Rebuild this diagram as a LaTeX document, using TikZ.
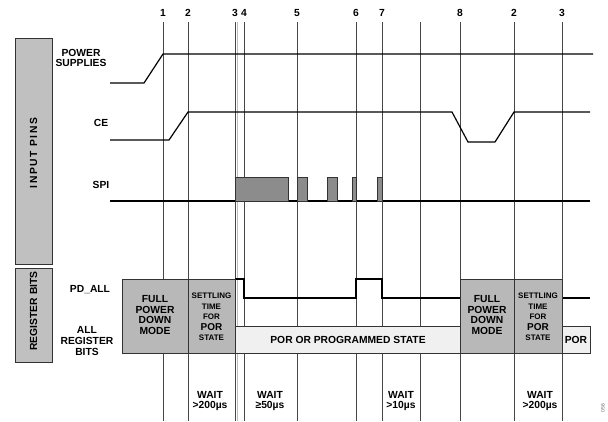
\documentclass[tikz,border=0pt]{standalone}
\usepackage{fontspec}
\setmainfont{Liberation Sans}
\definecolor{tdside}{RGB}{192,192,192}
\definecolor{tdmode}{RGB}{184,184,184}
\definecolor{tdspi}{RGB}{140,140,140}
\definecolor{tdstate}{RGB}{240,240,240}
\definecolor{tdtick}{RGB}{70,70,70}
\begin{document}
\begin{tikzpicture}[x=1pt,y=-1pt,
  lbl/.style={font=\fontsize{10.3}{10.8}\selectfont\bfseries,align=center,inner sep=0pt},
  small/.style={font=\fontsize{8}{10.6}\selectfont\bfseries,align=center,inner sep=0pt},
  tick/.style={draw=tdtick,line width=0.8pt},
  wave/.style={draw=black,line width=1.2pt},
  sidebar/.style={draw=black!80,fill=tdside,line width=0.9pt},
  modebox/.style={draw=black!80,fill=tdmode,line width=0.9pt},
  statebox/.style={draw=black!80,fill=tdstate,line width=0.9pt},
  spibox/.style={draw=black!80,fill=tdspi,line width=0.9pt}]
  \useasboundingbox (0,0) rectangle (608,421);
  % timing marks
  \foreach \x/\t [count=\i] in {163/1,188/2,235/3,244/4,297/5,356/6,382/7,460/8,514/2,562/3} {
    \draw[tick] (\x,22) -- (\x,421);
    \node[lbl] (mark\i) at (\x,13) {\t};
  }
  \draw[tick] (420,22) -- (420,421);
  \draw[draw=black!25,line width=0.8pt] (237.5,22) -- (237.5,421);
  % side bars
  \draw[sidebar] (15,38) rectangle (52,264);
  \node[lbl,rotate=90] (inpins) at (33.5,153) {\addfontfeature{LetterSpace=15}INPUT PINS};
  \draw[sidebar] (15,268) rectangle (52,362);
  \node[lbl,rotate=90] (regbits) at (33.5,311) {REGISTER BITS};
  % signal names
  \node[lbl] (pwr) at (81,58) {POWER\\SUPPLIES};
  \node[lbl] (ce) at (101,123) {CE};
  \node[lbl] (spi) at (101,185) {SPI};
  \node[lbl] (pdall) at (90,290) {PD\_ALL};
  \node[lbl] (allreg) at (87,341) {ALL\\REGISTER\\BITS};
  % input waveforms
  \draw[wave] (110,83) -- (144,83) -- (163,54) -- (593,54);
  \draw[wave] (110,140) -- (169,140) -- (188,112) -- (452,112)
    -- (468,142) -- (495,142) -- (514,112) -- (590,112);
  \draw[wave] (110,201) -- (590,201);
  \foreach \a/\b in {235/288,297/307,327/337,352/356,377/382}
    \draw[spibox] (\a,201) rectangle (\b,177);
  % register bits
  \draw[wave] (235,279) -- (244,279) -- (244,298) -- (356,298) -- (356,279)
    -- (382,279) -- (382,298) -- (460,298);
  \draw[wave] (562,298) -- (590,298);
  \draw[statebox] (235,326) rectangle (460,353);
  \node[lbl] (porprog) at (348,340) {POR OR PROGRAMMED STATE};
  \draw[statebox] (562,326) rectangle (590,353);
  \node[lbl] (por) at (576,340) {POR};
  \foreach \a/\b/\c [count=\i] in {122/188/235,460/514/562} {
    \draw[modebox] (\a,279) rectangle (\b,353);
    \draw[modebox] (\b,279) rectangle (\c,353);
    \node[lbl] (pdmode\i) at ({(\a+\b)/2},315) {FULL\\POWER\\DOWN\\MODE};
    \node[small] (settle\i) at ({(\b+\c)/2},317)
      {SETTLING\\TIME\\FOR\\{\fontsize{10}{10}\selectfont POR}\\STATE};
  }
  % wait times
  \node[lbl] (wait1) at (210,401) {WAIT\\>200µs};
  \node[lbl] (wait2) at (270,401) {WAIT\\≥50µs};
  \node[lbl] (wait3) at (401,401) {WAIT\\>10µs};
  \node[lbl] (wait4) at (540,401) {WAIT\\>200µs};
  \node[font=\fontsize{5}{5}\selectfont,text=black!60,rotate=90,inner sep=0pt] (figno) at (603,408) {056};
\end{tikzpicture}
\end{document}
